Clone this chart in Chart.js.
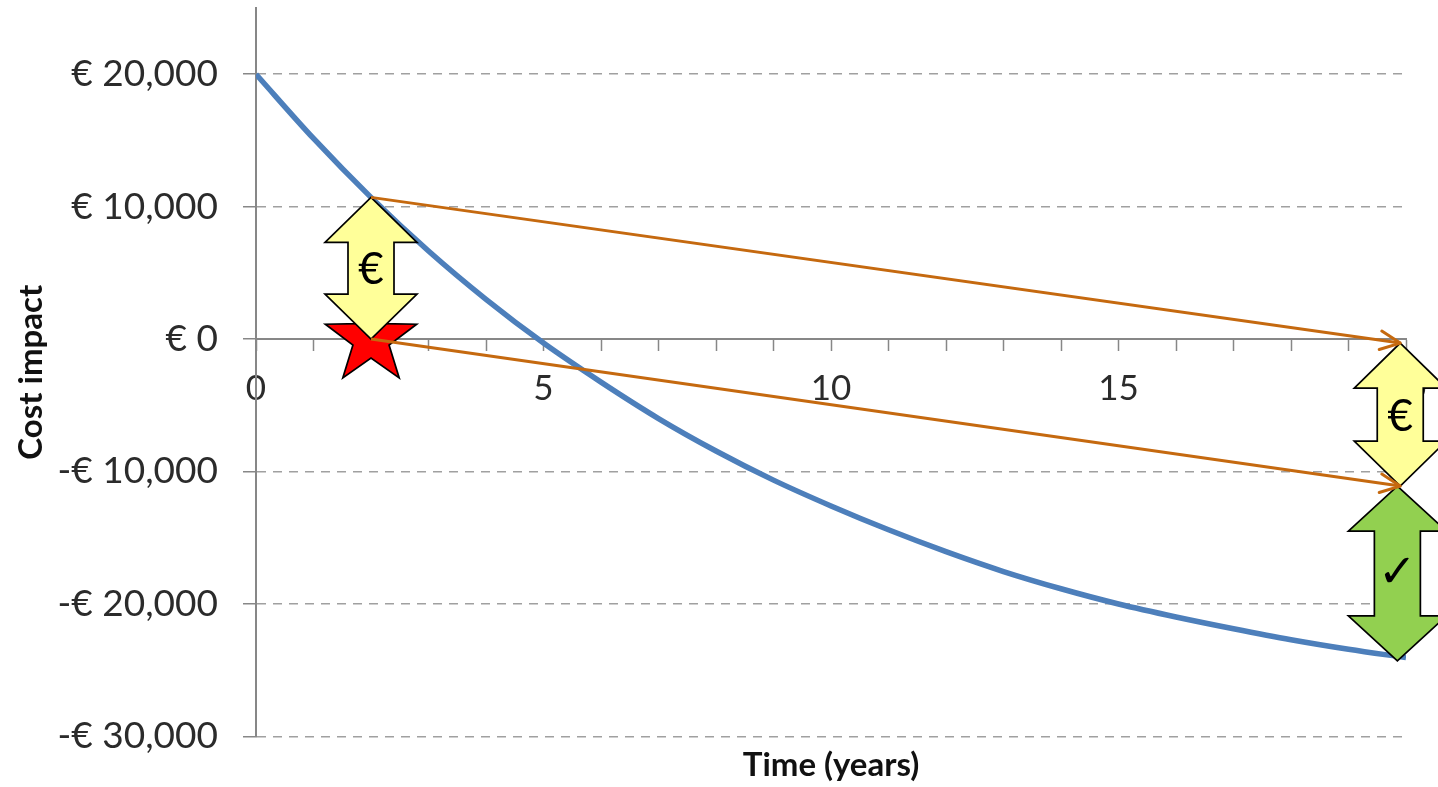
<!DOCTYPE html>
<html>
<head>
<meta charset="utf-8">
<title>Cost impact over time</title>
<script src="https://cdn.jsdelivr.net/npm/chart.js@4.4.1/dist/chart.umd.min.js"></script>
<style>
  html, body { margin: 0; padding: 0; background: #ffffff; }
  #wrap { width: 1438px; height: 787px; position: relative; }
</style>
</head>
<body>
<div id="wrap"><canvas id="chart"></canvas></div>
<script>
// Cumulative cost impact per year
const years = [0, 1, 2, 3, 4, 5, 6, 7, 8, 9, 10, 11, 12, 13, 14, 15, 16, 17, 18, 19, 20];
const costImpact = [20000, 15150, 10700, 6650, 3000, -300, -3250, -6000, -8450, -10650, -12600,
                    -14400, -16050, -17550, -18850, -20000, -20980, -21870, -22700, -23420, -24050];

// Axis ticks
const yTickValues = [-30000, -20000, -10000, 0, 10000, 20000];
const xLabelYears = [0, 5, 10, 15, 20];

// Shift of the up-front cost from year 2 to the horizon
const upperShiftYears = [2, 19.9];
const upperShiftValues = [10700, -300];
const lowerShiftYears = [2, 19.9];
const lowerShiftValues = [0, -11100];

// Double arrows: year, top value, bottom value, symbol
const gapYears = [2, 19.9, 19.85];
const gapTop = [10700, -300, -11100];
const gapBottom = [0, -11100, -24300];
const gapSymbols = ['€', '€', '✓'];

// Investment moment
const starYear = 2;
const starValue = 0;

const toPoints = (xs, ys) => xs.map((x, i) => ({ x: x, y: ys[i] }));

const euro = v => v === 0 ? '€ 0' : (v < 0 ? '-' : '') + '€ ' + Math.abs(v).toLocaleString('en-US');

function doubleArrow(ctx, cx, yTop, yBot, fill, hw) {
  const sw = 23, hh = 45;
  ctx.beginPath();
  ctx.moveTo(cx, yTop);
  ctx.lineTo(cx + hw, yTop + hh);
  ctx.lineTo(cx + sw, yTop + hh);
  ctx.lineTo(cx + sw, yBot - hh);
  ctx.lineTo(cx + hw, yBot - hh);
  ctx.lineTo(cx, yBot);
  ctx.lineTo(cx - hw, yBot - hh);
  ctx.lineTo(cx - sw, yBot - hh);
  ctx.lineTo(cx - sw, yTop + hh);
  ctx.lineTo(cx - hw, yTop + hh);
  ctx.closePath();
  ctx.fillStyle = fill;
  ctx.fill();
  ctx.lineWidth = 1.7;
  ctx.strokeStyle = '#000000';
  ctx.lineJoin = 'miter';
  ctx.stroke();
}

function star(ctx, cx, cy, R, r) {
  ctx.beginPath();
  for (let i = 0; i < 10; i++) {
    const rad = i % 2 === 0 ? R : r;
    const a = -Math.PI / 2 + i * Math.PI / 5;
    const px = cx + rad * Math.cos(a), py = cy + rad * Math.sin(a);
    if (i === 0) ctx.moveTo(px, py); else ctx.lineTo(px, py);
  }
  ctx.closePath();
  ctx.fillStyle = '#ff0000';
  ctx.fill();
  ctx.lineWidth = 1.7;
  ctx.strokeStyle = '#000000';
  ctx.stroke();
}

// Star and gap arrows sit above the cost curve, under the shift lines
const annotations = {
  id: 'annotations',
  afterDatasetDraw(chart, args) {
    if (args.index !== 0) return;
    const { ctx, scales: { x, y } } = chart;
    ctx.save();
    star(ctx, x.getPixelForValue(starYear), y.getPixelForValue(starValue), 48, 19);
    gapYears.forEach((yr, i) => {
      const isCheck = gapSymbols[i] === '✓';
      const cx = x.getPixelForValue(yr);
      const t = y.getPixelForValue(gapTop[i]);
      const b = y.getPixelForValue(gapBottom[i]);
      doubleArrow(ctx, cx, t, b, isCheck ? '#92d050' : '#ffff99', isCheck ? 49 : 46);
      ctx.fillStyle = '#000000';
      ctx.textAlign = 'center';
      ctx.textBaseline = 'middle';
      ctx.font = isCheck ? 'bold 46px "DejaVu Sans"' : '44px Lato';
      ctx.fillText(gapSymbols[i], cx, (t + b) / 2 + 2);
    });
    ctx.restore();
  },
  afterDatasetsDraw(chart) {
    const { ctx } = chart;
    ctx.save();
    [1, 2].forEach(di => {
      const pts = chart.getDatasetMeta(di).data;
      const p0 = pts[pts.length - 2], p1 = pts[pts.length - 1];
      const ang = Math.atan2(p1.y - p0.y, p1.x - p0.x);
      const len = 22, spread = 25 * Math.PI / 180;
      ctx.beginPath();
      ctx.moveTo(p1.x - len * Math.cos(ang - spread), p1.y - len * Math.sin(ang - spread));
      ctx.lineTo(p1.x, p1.y);
      ctx.lineTo(p1.x - len * Math.cos(ang + spread), p1.y - len * Math.sin(ang + spread));
      ctx.strokeStyle = '#c5690f';
      ctx.lineWidth = 3;
      ctx.lineCap = 'round';
      ctx.lineJoin = 'round';
      ctx.stroke();
    });
    ctx.restore();
  }
};

function build() {
  new Chart(document.getElementById('chart'), {
    type: 'line',
    data: {
      datasets: [
        {
          data: toPoints(years, costImpact),
          borderColor: '#4d7fbb',
          borderWidth: 5.5,
          pointRadius: 0,
          cubicInterpolationMode: 'monotone',
          fill: false,
          order: 3
        },
        {
          data: toPoints(upperShiftYears, upperShiftValues),
          borderColor: '#c5690f',
          borderWidth: 3,
          pointRadius: 0,
          tension: 0,
          fill: false,
          clip: false,
          order: 1
        },
        {
          data: toPoints(lowerShiftYears, lowerShiftValues),
          borderColor: '#c5690f',
          borderWidth: 3,
          pointRadius: 0,
          tension: 0,
          fill: false,
          clip: false,
          order: 1
        }
      ]
    },
    options: {
      responsive: true,
      maintainAspectRatio: false,
      animation: false,
      events: [],
      layout: { padding: { left: 0, right: 32, top: 8, bottom: 0 } },
      plugins: {
        legend: { display: false },
        tooltip: { enabled: false },
        title: {
          display: true,
          text: 'Time (years)',
          position: 'bottom',
          fullSize: false,
          color: '#111111',
          font: { family: 'Lato', size: 33, weight: 'bold' },
          padding: { top: 9, bottom: 2 }
        }
      },
      scales: {
        x: {
          type: 'linear',
          position: { y: 0 },
          min: 0,
          max: 20,
          afterFit: s => { s.paddingLeft = 0; s.paddingRight = 0; },
          ticks: {
            stepSize: 1,
            autoSkip: false,
            maxRotation: 0,
            padding: 18,
            color: '#2b2b2b',
            font: { family: 'Lato', size: 35 },
            callback: v => xLabelYears.includes(v) ? String(v) : ''
          },
          grid: {
            drawOnChartArea: false,
            drawTicks: true,
            tickLength: 11,
            tickColor: '#878787',
            tickWidth: 1.5
          },
          border: { display: true, color: '#878787', width: 2 }
        },
        y: {
          type: 'linear',
          min: -30000,
          max: 25000,
          afterFit: s => { s.width = 256; s.paddingTop = 0; s.paddingBottom = 0; },
          afterBuildTicks: s => { s.ticks = yTickValues.map(v => ({ value: v })); },
          ticks: {
            stepSize: 10000,
            includeBounds: false,
            padding: 25,
            color: '#2b2b2b',
            font: { family: 'Lato', size: 37 },
            callback: v => euro(v)
          },
          grid: {
            color: '#a0a0a0',
            lineWidth: 1.5,
            drawTicks: true,
            tickLength: 13,
            tickColor: '#878787',
            tickWidth: 1.5
          },
          border: { display: true, color: '#878787', width: 2, dash: [9, 7] },
          title: {
            display: true,
            text: 'Cost impact',
            color: '#111111',
            font: { family: 'Lato', size: 33, weight: 'bold' },
            padding: { top: 12, bottom: 0 }
          }
        }
      }
    },
    plugins: [annotations]
  });
}

Promise.all([
  document.fonts.load('37px Lato'),
  document.fonts.load('bold 33px Lato'),
  document.fonts.load('bold 46px "DejaVu Sans"')
]).then(build, build);
</script>
</body>
</html>
